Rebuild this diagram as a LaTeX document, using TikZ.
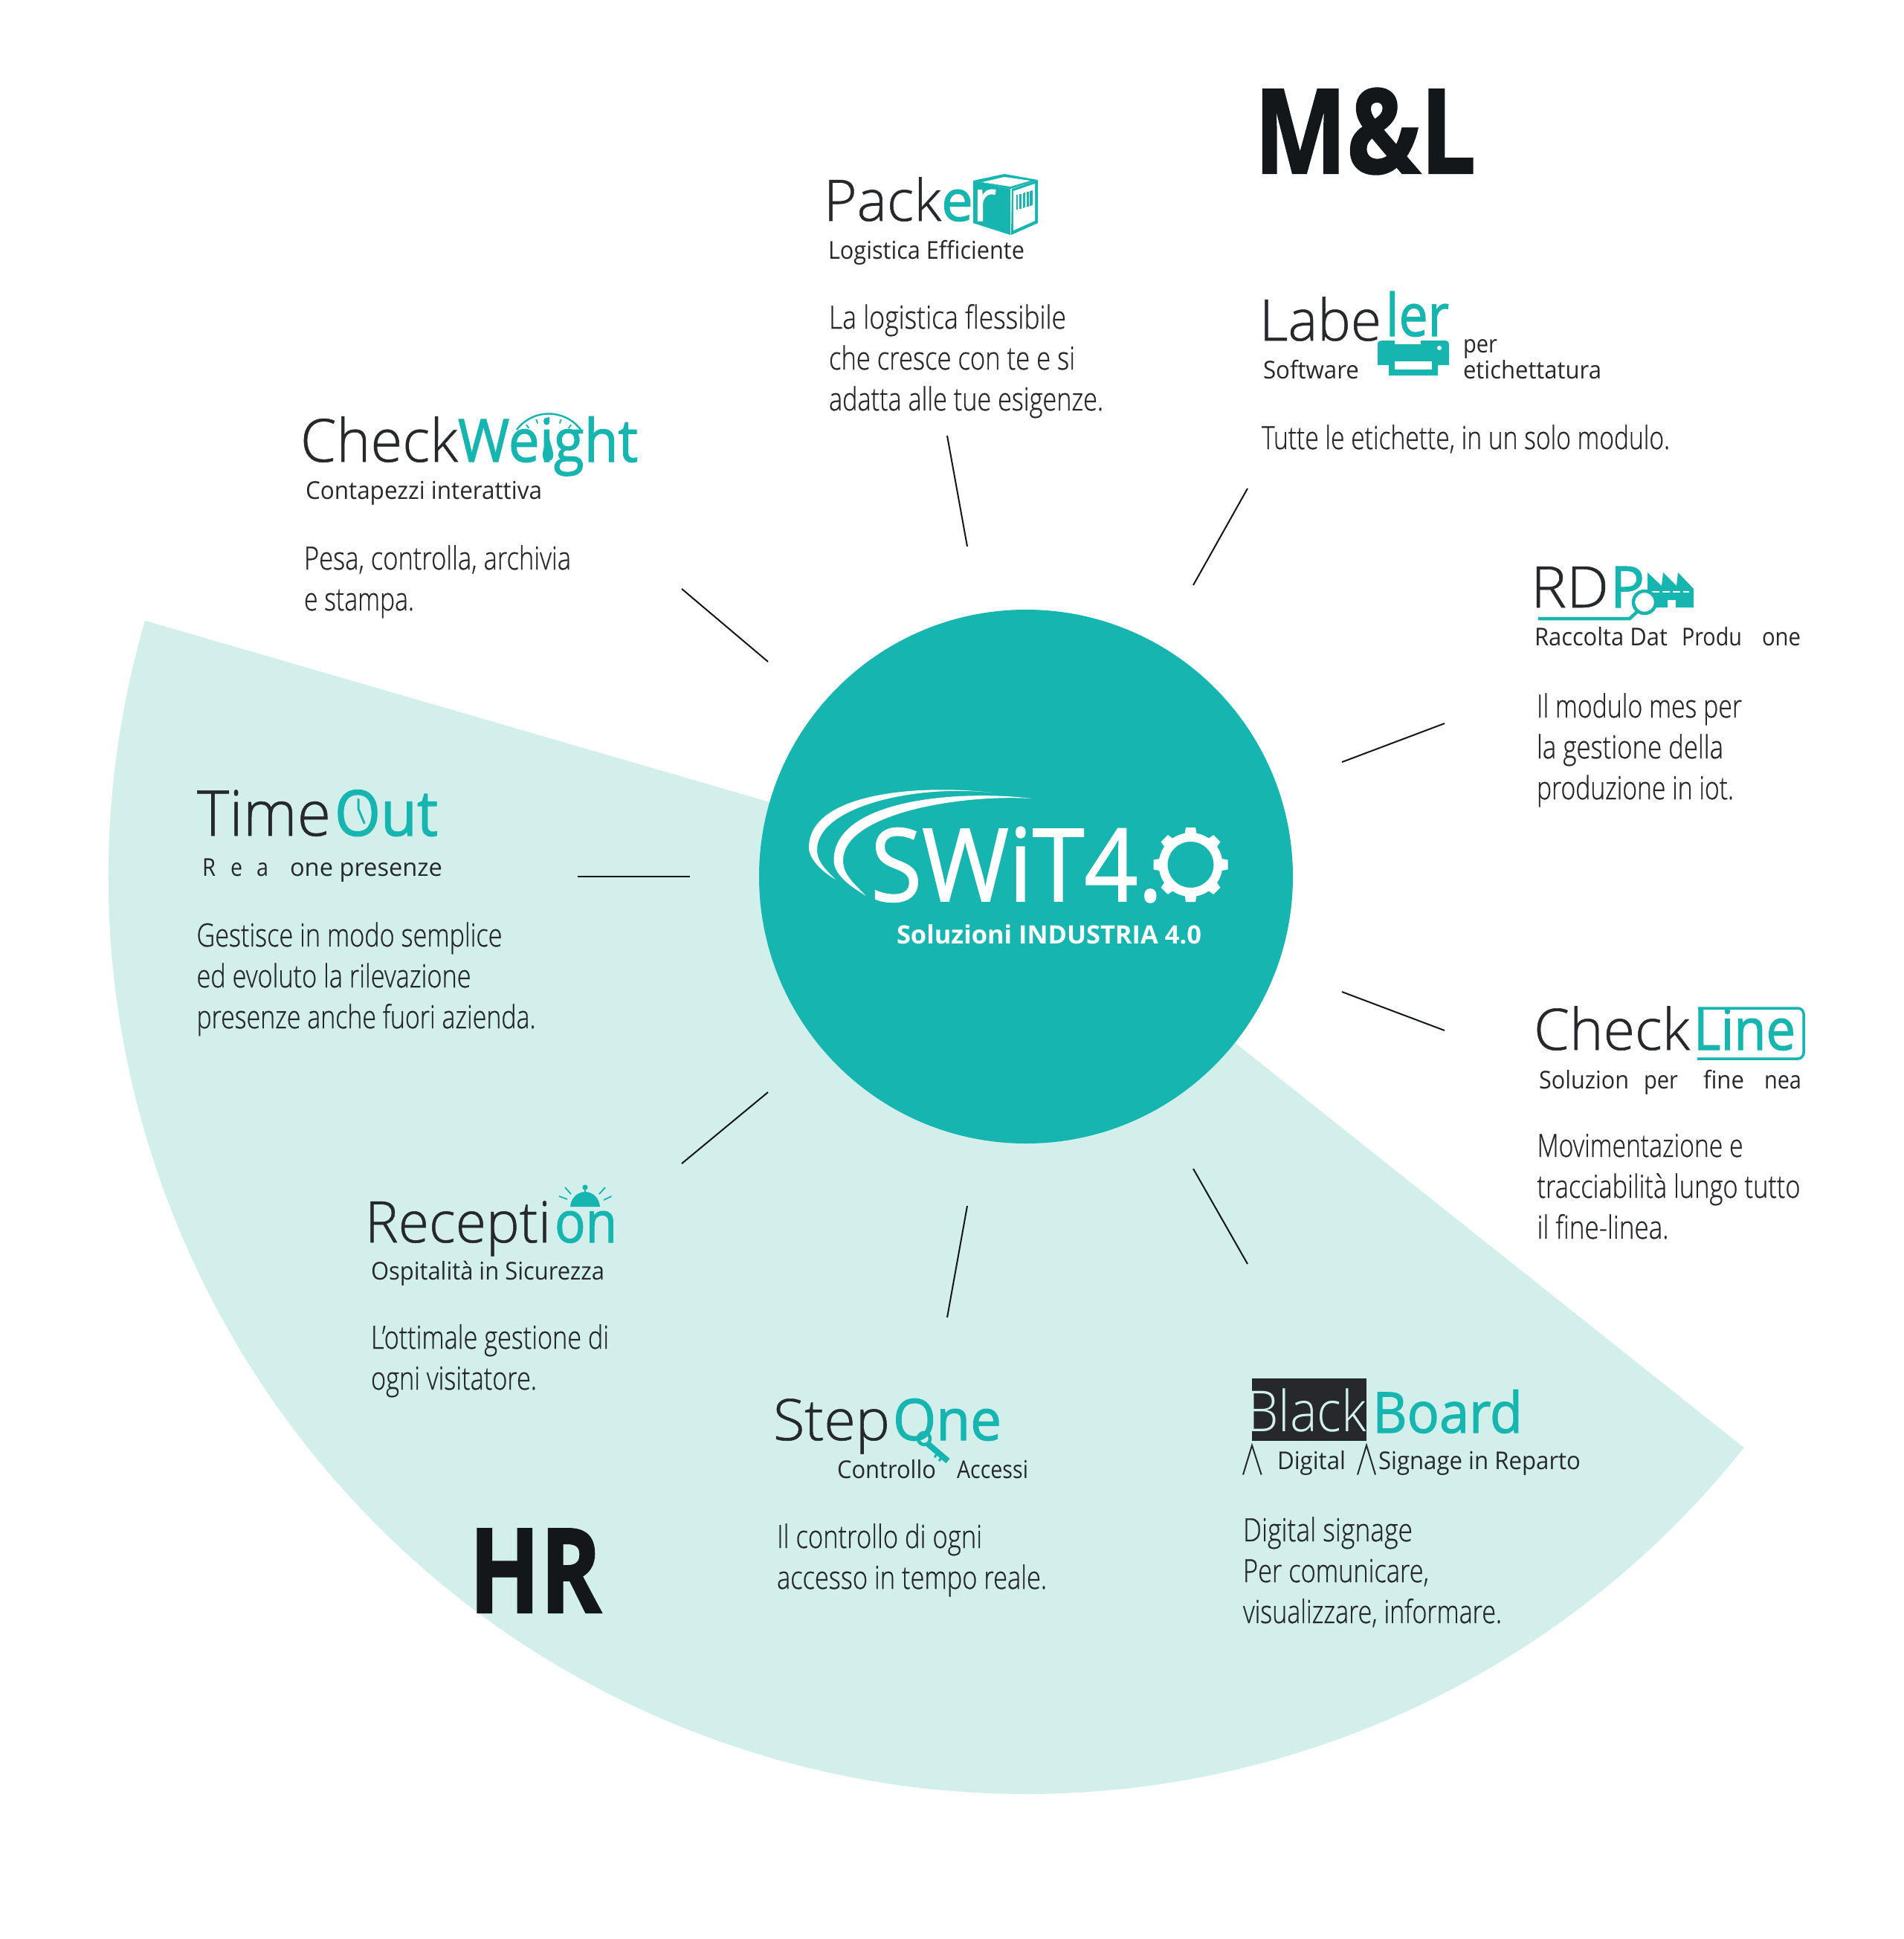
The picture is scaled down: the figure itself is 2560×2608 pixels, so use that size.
\documentclass[tikz,border=0pt]{standalone}
\usepackage{graphicx}
\usepackage{fontspec}
\usetikzlibrary{calc}
\setmainfont{Open Sans}
\newfontfamily\lgf{Open Sans Light}
\newfontfamily\lbf[FakeBold=0.7]{Open Sans Light}
\newfontfamily\rgf{Open Sans}
\newfontfamily\tlf[FakeBold=1.5]{Open Sans}
\newfontfamily\swf[FakeBold=1.2]{Open Sans}
\newfontfamily\hvf[FakeBold=1.5]{Open Sans}
\definecolor{tl}{HTML}{16B5B0}
\definecolor{pale}{HTML}{D2EFEC}
\definecolor{ink}{HTML}{26282C}
\definecolor{nearblack}{HTML}{14171A}
\newcommand\fw[2]{\resizebox{#1pt}{\height}{#2}}
\newcommand\fs[1]{\fontsize{#1}{#1}\selectfont}
\newcommand\tc[1]{\textcolor{tl}{#1}}
\tikzset{
 txt/.style={anchor=base west,inner sep=0pt,outer sep=0pt,text=ink},
 logo/.style={txt,font=\lbf\fs{77}},
 sub/.style={txt,font=\rgf\fs{33}},
 body/.style={txt,align=left,font=\lbf\fontsize{43}{55}\selectfont},
 big/.style={txt,text=nearblack,font=\hvf\bfseries\fs{158}},
 link/.style={draw=nearblack,line width=2pt},
}
\begin{document}
\begin{tikzpicture}[x=1pt,y=-1pt]
\useasboundingbox (0,0) rectangle (2560,2608);
\fill[white] (0,0) rectangle (2560,2608);
\fill[pale] (1380,1179) -- ++(196.2:1234) arc[start angle=196.2,end angle=38.5,radius=1234] -- cycle;
\node[circle,fill=tl,minimum size=718pt,inner sep=0pt] (core) at (1380,1179) {};

% SWiT logo
\fill[white] (1333,1066) .. controls (1240,1055) and (1088,1065) .. (1088,1140) .. controls (1088,1155) and (1105,1172) .. (1124,1183) .. controls (1105,1165) and (1099,1155) .. (1099,1143) .. controls (1099,1085) and (1230,1055) .. (1333,1066) -- cycle;
\fill[white] (1387.5,1074) .. controls (1290,1062) and (1121.5,1075) .. (1121.5,1157) .. controls (1121.5,1175) and (1140,1190) .. (1165,1205) .. controls (1145,1185) and (1134,1175) .. (1134,1157) .. controls (1134,1095) and (1290,1068) .. (1387.5,1074) -- cycle;
\node[txt,text=white,font=\swf\fs{136}] (swit) at (1171,1212) {\fw{393}{SWiT4.}};
\fill[white,even odd rule] (1601.5,1163) circle (43) circle (31);
\foreach \a in {0,45,...,315}
  \fill[white,shift={(1601.5,1163)},rotate=\a] (-9,36) -- (-6.5,50) -- (6.5,50) -- (9,36) -- cycle;
\node[txt,text=white,font=\rgf\bfseries\fs{34}] (swsub) at (1206,1269) {\fw{410}{Soluzioni INDUSTRIA 4.0}};

% connectors
\coordinate (a1) at (777,1179);  \coordinate (a2) at (928,1179);
\coordinate (b1) at (917,792);   \coordinate (b2) at (1033,890);
\coordinate (c1) at (1274,586);  \coordinate (c2) at (1301,735);
\coordinate (d1) at (1678,657);  \coordinate (d2) at (1605,787);
\coordinate (e1) at (1943,973);  \coordinate (e2) at (1805,1025);
\coordinate (f1) at (1805,1334); \coordinate (f2) at (1943,1386);
\coordinate (g1) at (1605,1572); \coordinate (g2) at (1678,1700);
\coordinate (h1) at (1301,1622); \coordinate (h2) at (1274,1772);
\coordinate (i1) at (1033,1469); \coordinate (i2) at (917,1565);
\draw[link] (a1) -- (a2);
\draw[link] (b1) -- (b2);
\draw[link] (c1) -- (c2);
\draw[link] (d1) -- (d2);
\draw[link] (e1) -- (e2);
\draw[link] (f1) -- (f2);
\draw[link] (g1) -- (g2);
\draw[link] (h1) -- (h2);
\draw[link] (i1) -- (i2);

% big labels
\node[big] (ml) at (1687,233) {\fw{298}{M\&L}};
\node[big] (hr) at (631,2169) {\fw{178}{HR}};

% Packer
\fill[tl] (1309,243) -- (1351,234) -- (1396,242) -- (1359,254) -- cycle;
\fill[white] (1321,245) -- (1351,238) -- (1386,243) -- (1359,251) -- cycle;
\fill[tl] (1309,243) -- (1359,254) -- (1359,316) -- (1309,300) -- cycle;
\fill[tl] (1361,254) -- (1396,242) -- (1396,300) -- (1360,316) -- cycle;
\fill[white] (1363,257) -- (1392,247) -- (1392,297) -- (1363,310) -- cycle;
\foreach \bx/\bw in {1368/1.6,1371/1,1373/1.8,1376/1,1378/1.6,1381/1,1383/1.8,1386/1.2,1388/1.6}
  \draw[tl,line width=\bw pt] (\bx,{262-(\bx-1368)*0.3}) -- (\bx,{282-(\bx-1368)*0.3});
\node[logo] (packer) at (1108,297) {\fw{232}{Pack{\tlf\tc{e}\textcolor{white}{r}}}};
\node[sub] (packersub) at (1114,348) {\fw{264}{Logistica Efficiente}};
\node[body] (packerbody) at (1115,552) {\fw{319}{La logistica flessibile}\\\fw{331}{che cresce con te e si}\\\fw{369}{adatta alle tue esigenze.}};

% Labeler
\node[logo] (labeler) at (1694,458) {\fw{164}{Labe}};
\node[logo,text=tl,font=\tlf\fs{79}] (labelerb) at (1864,452) {\fw{85}{ler}};
\fill[tl] (1853,463) .. controls (1853,459) and (1856,458) .. (1859,458) -- (1876,458) -- (1876,463) -- (1911,463) -- (1911,458) -- (1943,458) .. controls (1947,458) and (1949,460) .. (1949,464) -- (1949,491) -- (1934,491) -- (1934,505) -- (1868,505) -- (1868,491) -- (1853,491) -- cycle;
\fill[white] (1876,486) rectangle (1926,497);
\fill[white] (1936,468) circle (3);
\node[sub] (labelsw) at (1699,509) {\fw{129}{Software}};
\node[sub] (labelper) at (1968,474) {\fw{46}{per}};
\node[sub] (labeleti) at (1968,509) {\fw{186}{etichettatura}};
\node[body] (labelbody) at (1697,604) {\fw{549}{Tutte le etichette, in un solo modulo.}};

% RDP
\node[logo] (rdp) at (2059,817) {\fw{105}{RD}\hspace{2pt}\tc{\fw{46}{\tlf P}}};
\fill[tl] (2216,770) -- (2235,788) -- (2237,770) -- (2255,788) -- (2257,770) -- (2278,792) -- (2278,817) -- (2254,817) -- (2254,807) -- (2243,807) -- (2243,817) -- (2228,817) -- (2216,796) -- cycle;
\draw[white,line width=2pt,dash pattern=on 10pt off 4pt] (2222,796) -- (2272,796);
\fill[white] (2212,810) circle (16);
\draw[tl,line width=4.5pt] (2212,810) circle (15);
\draw[tl,line width=4.5pt] (2069,832) -- (2192,832) -- (2203,822);
\node[sub] (rdpsub) at (2064,868) {\fw{179}{Raccolta Dat}\hspace{19pt}\fw{81}{Produ}\hspace{27pt}\fw{52}{one}};
\node[body] (rdpbody) at (2067,1075) {\fw{276}{Il modulo mes per}\\\fw{251}{la gestione della}\\\fw{265}{produzione in iot.}};

% CheckLine
\node[logo] (cline) at (2063,1412) {\fw{210}{Check}\hspace{5pt}\tc{\fw{137}{\tlf Line}}};
\draw[tl,line width=3.5pt,rounded corners=8pt] (2283,1424) -- (2426,1424) -- (2426,1356) -- (2284,1356);
\node[sub] (clinesub) at (2070,1464) {\fw{121}{Soluzion}\hspace{20pt}\fw{46}{per}\hspace{34pt}\fw{55}{fine}\hspace{27pt}\fw{50}{nea}};
\node[body] (clinebody) at (2067.5,1666) {\fw{277}{Movimentazione e}\\\fw{354}{tracciabilità lungo tutto}\\\fw{177}{il fine-linea.}};

% BlackBoard
\fill[ink] (1684,1854) rectangle (1838,1938);
\node[txt,text=pale,font=\lgf\fs{76}] (bb) at (1676,1925) {\fw{162}{Black}};
\node[txt,text=tl,font=\tlf\fs{76}] (bbb) at (1846,1927) {\fw{202}{Board}};
\draw[ink,line width=2pt] (1672,1983.5) -- (1684,1944) -- (1696.6,1983.5);
\draw[ink,line width=2pt] (1826,1983.5) -- (1838,1944) -- (1850,1983.5);
\node[sub] (bbsub) at (1718,1976) {\fw{92}{Digital}\hspace{44pt}\fw{272}{Signage in Reparto}};
\node[body] (bbbody) at (1672,2183) {\fw{228}{Digital signage}\\\fw{250}{Per comunicare,}\\\fw{348}{visualizzare, informare.}};

% StepOne
\node[logo] (stepone) at (1040,1937) {\fw{157}{Step}\hspace{4pt}\tc{\fw{146}{\tlf One}}};
\draw[tl,line width=4.5pt] (1243,1935) circle (8);
\draw[tl,line width=8pt] (1248,1942) -- (1275,1965);
\draw[tl,line width=3pt] (1262,1953) -- (1257,1960) (1268,1958) -- (1263,1965);
\node[sub] (stepsub) at (1126,1988) {\fw{133}{Controllo}\hspace{28pt}\fw{96}{Accessi}};
\node[body] (stepbody) at (1045,2137) {\fw{276}{Il controllo di ogni}\\\fw{363}{accesso in tempo reale.}};

% Reception
\node[logo] (recep) at (491,1671) {\fw{250}{Recepti}\hspace{5pt}\tc{\fw{84}{\tlf on}}};
\fill[tl] (767,1623) .. controls (768,1610) and (778,1603) .. (787,1603) .. controls (796,1603) and (806,1610) .. (807,1623) -- cycle;
\fill[tl] (787,1597) circle (3.6);
\draw[tl,line width=2.4pt] (787,1597) -- (787,1604);
\draw[tl,line width=1.8pt] (760,1597) -- (768,1606) (752,1609) -- (763,1613) (814,1597) -- (806,1606) (822.5,1609) -- (812,1614);
\node[sub] (recepsub) at (499,1721) {\fw{314}{Ospitalità in Sicurezza}};
\node[body] (recepbody) at (499,1869) {\fw{320}{L’ottimale gestione di}\\\fw{223}{ogni visitatore.}};

% TimeOut
\node[logo,font=\lbf\fs{85}] (timeo) at (265,1124) {\fw{180}{Time}\hspace{5pt}\tc{\fw{139}{\tlf Out}}};
\draw[tl,line width=3pt,line cap=round,line join=round] (482,1075) -- (482,1088) -- (490,1107);
\node[sub] (timesub) at (272,1178.5) {\fw{18}{R}\hspace{20pt}\fw{16}{e}\hspace{19pt}\fw{16}{a}\hspace{29pt}\fw{205}{one presenze}};
\node[body] (timebody) at (264.5,1383) {\fw{411}{Gestisce in modo semplice}\\\fw{369}{ed evoluto la rilevazione}\\\fw{456}{presenze anche fuori azienda.}};

% CheckWeight
\node[logo,font=\lbf\fs{80}] (cw) at (404,621) {\fw{212}{Check}\hspace{0pt}\tc{\fw{242}{\tlf Weight}}};
\draw[tl,line width=2.4pt] (695,578) arc[start angle=217,end angle=323,radius=54];
\foreach \a in {232,250,270,290,308}
  \draw[tl,line width=1.8pt] ($(738,610)+(\a:43)$) -- ($(738,610)+(\a:49)$);
\fill[tl] (737,577) .. controls (738,595) and (745,605) .. (744,613) .. controls (744,618) and (741,620) .. (737,620) .. controls (733,620) and (730,618) .. (730,613) .. controls (729,605) and (736,595) .. (737,577) -- cycle;
\node[sub] (cwsub) at (411,671) {\fw{318}{Contapezzi interattiva}};
\node[body] (cwbody) at (409,821) {\fw{359}{Pesa, controlla, archivia}\\\fw{148}{e stampa.}};
\end{tikzpicture}
\end{document}
